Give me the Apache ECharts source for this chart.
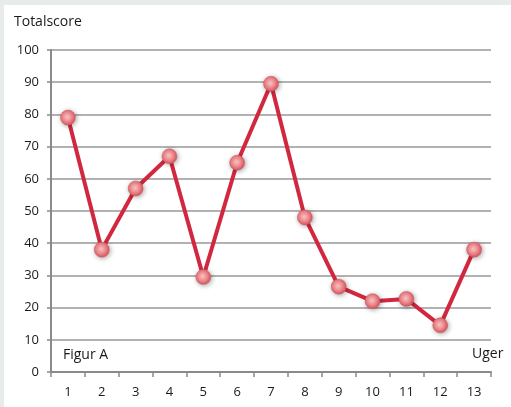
<!DOCTYPE html>
<html>
<head>
<meta charset="utf-8">
<script src="https://cdn.jsdelivr.net/npm/echarts@6/dist/echarts.min.js"></script>
<style>
html,body{margin:0;padding:0;background:#e7ebeb;}
#c{width:511px;height:407px;}
</style>
</head>
<body>
<div id="c"></div>
<script>
var categories = ['1','2','3','4','5','6','7','8','9','10','11','12','13'];
var scores = [79, 38, 57, 67, 29.5, 65, 89.5, 48, 26.5, 22, 22.7, 14.5, 38];
var yTitle = 'Totalscore';
var xTitle = 'Uger';
var figLabel = 'Figur A';

var chart = echarts.init(document.getElementById('c'), null, {renderer:'canvas'});
var font = '"Open Sans", "Liberation Sans", sans-serif';
chart.setOption({
  backgroundColor: '#e7ebeb',
  animation: false,
  graphic: [
    {type:'rect', z:-10, shape:{x:4, y:5, width:507, height:402}, style:{fill:'#ffffff'}, silent:true},
    {type:'text', left:14, top:15, style:{text:yTitle, font:'14px '+font, fill:'#1a1a1a'}},
    {type:'text', left:63, top:348, style:{text:figLabel, font:'14px '+font, fill:'#1a1a1a'}},
    {type:'text', left:472, top:347, style:{text:xTitle, font:'14px '+font, fill:'#1a1a1a'}}
  ],
  grid: {left:51, right:20, top:50, bottom:35, containLabel:false},
  xAxis: {
    type:'category',
    data: categories,
    boundaryGap: true,
    axisLine:{show:true, lineStyle:{color:'#8a8a8a', width:2}},
    axisTick:{show:true, interval:0, length:5, lineStyle:{color:'#8a8a8a', width:1.5}},
    axisLabel:{color:'#1a1a1a', fontSize:13, fontFamily:font, margin:14, interval:0},
    splitLine:{show:false}
  },
  yAxis: {
    type:'value',
    min:0, max:100, interval:10,
    axisLine:{show:true, lineStyle:{color:'#8a8a8a', width:2}},
    axisTick:{show:true, length:4, lineStyle:{color:'#8a8a8a', width:1.5}},
    axisLabel:{color:'#1a1a1a', fontSize:13, fontFamily:font, margin:12},
    splitLine:{show:true, lineStyle:{color:'#999999', width:1.5}}
  },
  series: [{
    type:'line',
    data: scores,
    symbol:'circle',
    symbolSize:15,
    lineStyle:{color:'#d2283f', width:4},
    itemStyle:{
      color: new echarts.graphic.RadialGradient(0.45,0.45,0.6,[
        {offset:0, color:'#f9c4c4'},
        {offset:0.5, color:'#ee8a8e'},
        {offset:1, color:'#d24a55'}
      ]),
      borderColor:'#d65a63', borderWidth:0.5,
      shadowBlur:5, shadowColor:'rgba(0,0,0,0.35)', shadowOffsetX:1, shadowOffsetY:1
    },
    z:5
  }]
});
</script>
</body>
</html>
